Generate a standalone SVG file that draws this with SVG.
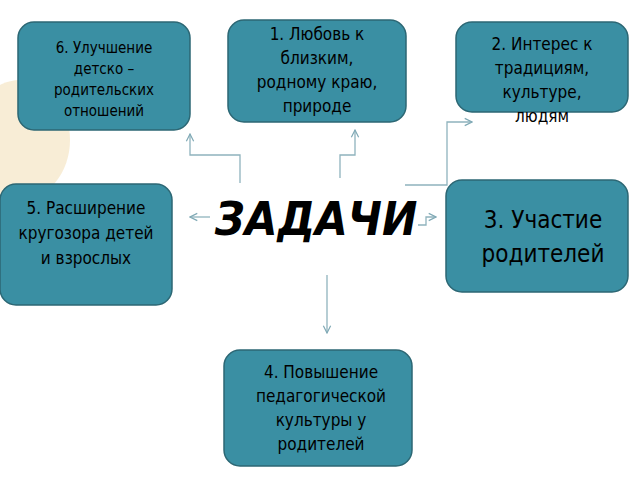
<svg xmlns="http://www.w3.org/2000/svg" width="640" height="480" viewBox="0 0 640 480">
<defs>
<marker id="ar" viewBox="0 0 10 10" refX="9" refY="5" markerWidth="7" markerHeight="7" orient="auto"><path d="M1,1 L9,5 L1,9" fill="none" stroke="#7fa9b5" stroke-width="1.3"/></marker>
<style>
.box{fill:#3a8fa3;stroke:#2c6774;stroke-width:1.5}
.t{font-family:"DejaVu Sans Condensed","Liberation Sans",sans-serif;fill:#000;text-anchor:middle}
.c{fill:none;stroke:#8fb3bd;stroke-width:1.3;marker-end:url(#ar)}
</style>
</defs>
<rect width="640" height="480" fill="#fff"/>
<ellipse cx="20" cy="140" rx="50" ry="60" fill="#f5e6c4" opacity="0.7"/>
<g id="connectors">
<path class="c" d="M240,183 V155 H190 V134"/>
<path class="c" d="M340,178 V155 H355 V130"/>
<path class="c" d="M405,185 H447 V122 H472"/>
<path class="c" d="M210,217 H190"/>
<path class="c" d="M418,225 H426 V217 H436"/>
<path class="c" d="M327,275 V333"/>
</g>
<g id="n6"><rect class="box" x="18" y="22" width="172" height="108" rx="16"/>
<text class="t" font-size="15"><tspan x="104" y="53">6. Улучшение</tspan><tspan x="104" y="74">детско –</tspan><tspan x="104" y="95">родительских</tspan><tspan x="104" y="116">отношений</tspan></text></g>
<g id="n1"><rect class="box" x="228" y="20" width="178" height="102" rx="16"/>
<text class="t" font-size="17"><tspan x="317" y="40">1. Любовь к</tspan><tspan x="317" y="64">близким,</tspan><tspan x="317" y="88">родному краю,</tspan><tspan x="317" y="112">природе</tspan></text></g>
<g id="n2"><rect class="box" x="456" y="22" width="172" height="90" rx="16"/>
<text class="t" font-size="17"><tspan x="542" y="50">2. Интерес к</tspan><tspan x="542" y="74">традициям,</tspan><tspan x="542" y="98">культуре,</tspan><tspan x="542" y="122">людям</tspan></text></g>
<g id="n5"><rect class="box" x="0" y="184" width="172" height="121" rx="16"/>
<text class="t" font-size="17" font-family="Liberation Sans,sans-serif"><tspan x="86" y="214">5. Расширение</tspan><tspan x="86" y="239">кругозора детей</tspan><tspan x="86" y="264">и взрослых</tspan></text></g>
<g id="center"><text x="316" y="235" class="t" font-family="Liberation Sans,Arial,sans-serif" font-size="47" font-weight="bold" font-style="italic">ЗАДАЧИ</text></g>
<g id="n3"><rect class="box" x="446" y="180" width="182" height="112" rx="16"/>
<text class="t" font-size="24" font-family="Liberation Sans,sans-serif"><tspan x="543" y="228">3. Участие</tspan><tspan x="543" y="262">родителей</tspan></text></g>
<g id="n4"><rect class="box" x="224" y="350" width="188" height="116" rx="16"/>
<text class="t" font-size="17" font-family="Liberation Sans,sans-serif"><tspan x="321" y="378">4. Повышение</tspan><tspan x="321" y="402">педагогической</tspan><tspan x="321" y="426">культуры у</tspan><tspan x="321" y="450">родителей</tspan></text></g>
</svg>
